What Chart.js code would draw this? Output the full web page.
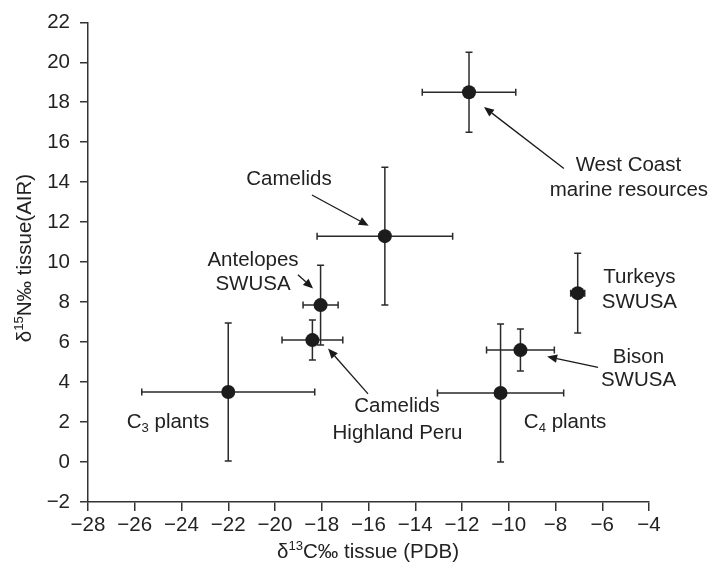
<!DOCTYPE html>
<html><head><meta charset="utf-8">
<script src="https://cdn.jsdelivr.net/npm/chart.js@4"></script>
<style>html,body{margin:0;padding:0;background:#fff;}#wrap{width:712px;height:574px;}</style>
</head><body><div id="wrap"><canvas id="c" width="712" height="574"></canvas></div>
<script>
// ---- data ----
const groups   = ['West Coast marine resources','Camelids','Antelopes SWUSA','Camelids Highland Peru','C3 plants','C4 plants','Bison SWUSA','Turkeys SWUSA'];
const d13C     = [-11.7, -15.3, -18.05, -18.4, -22.0, -10.35, -9.5, -7.05];
const d15N     = [18.5, 11.3, 7.85, 6.1, 3.5, 3.45, 5.6, 8.45];
const d13CErr  = [2.0, 2.9, 0.75, 1.3, 3.7, 2.7, 1.45, 0.3];
const d15NErr  = [2.0, 3.45, 2.0, 1.0, 3.45, 3.45, 1.05, 2.0];
const xTicks   = [-28, -26, -24, -22, -20, -18, -16, -14, -12, -10, -8, -6, -4];
const yTicks   = [-2, 0, 2, 4, 6, 8, 10, 12, 14, 16, 18, 20, 22];

// ---- annotation layout (data coordinates) ----
const labelTexts = [
  [{t:'West Coast'}], [{t:'marine resources'}],
  [{t:'Camelids'}],
  [{t:'Antelopes'}], [{t:'SWUSA'}],
  [{t:'Camelids'}], [{t:'Highland Peru'}],
  [{t:'C'},{t:'3',sub:true},{t:' plants'}],
  [{t:'C'},{t:'4',sub:true},{t:' plants'}],
  [{t:'Bison'}], [{t:'SWUSA'}],
  [{t:'Turkeys'}], [{t:'SWUSA'}]
];
const labelPos = [
  [-4.88,14.94],[-4.86,13.66],
  [-19.40,14.25],
  [-20.94,10.16],[-20.94,8.97],
  [-14.78,2.87],[-14.76,1.54],
  [-24.58,2.09],
  [-7.59,2.09],
  [-4.45,5.33],[-4.45,4.15],
  [-4.41,9.32],[-4.41,8.09]
];
const arrows = [
  [[-7.64,14.69],[-11.06,17.76]],
  [[-18.42,13.36],[-15.99,11.82]],
  [[-19.02,9.37],[-18.37,8.68]],
  [[-16.02,3.41],[-17.73,5.68]],
  [[-6.18,4.74],[-8.36,5.28]]
];

const FONT = '"Liberation Sans", Arial, Helvetica, sans-serif';
const FS = 20.5;
const INK = '#222';
const AX = '#333';

function richWidth(ctx, parts, fs){
  let w=0;
  for(const p of parts){
    const s = (p.sub||p.sup)? fs*0.64 : fs;
    ctx.font = s+'px '+FONT;
    w += ctx.measureText(p.t).width;
  }
  return w;
}
function drawRich(ctx, parts, cx, cy, fs){
  const w = richWidth(ctx, parts, fs);
  let x = cx - w/2;
  const base = cy + 0.36*fs;
  ctx.textAlign='left'; ctx.textBaseline='alphabetic'; ctx.fillStyle=INK;
  for(const p of parts){
    const s = (p.sub||p.sup)? fs*0.64 : fs;
    ctx.font = s+'px '+FONT;
    let y = base;
    if(p.sub) y = base + 0.22*fs;
    if(p.sup) y = base - 0.42*fs;
    ctx.fillText(p.t, x, y);
    x += ctx.measureText(p.t).width;
  }
}

const errorBars = {
  id:'errorBars',
  beforeDatasetsDraw(chart){
    const {ctx, scales:{x,y}} = chart;
    ctx.save();
    ctx.strokeStyle='#2a2a2a'; ctx.lineWidth=1.5;
    const cap=3.5;
    for(let i=0;i<d13C.length;i++){
      const px=x.getPixelForValue(d13C[i]), py=y.getPixelForValue(d15N[i]);
      const x0=x.getPixelForValue(d13C[i]-d13CErr[i]), x1=x.getPixelForValue(d13C[i]+d13CErr[i]);
      const y0=y.getPixelForValue(d15N[i]-d15NErr[i]), y1=y.getPixelForValue(d15N[i]+d15NErr[i]);
      ctx.beginPath();
      ctx.moveTo(x0,py); ctx.lineTo(x1,py);
      ctx.moveTo(x0,py-cap); ctx.lineTo(x0,py+cap);
      ctx.moveTo(x1,py-cap); ctx.lineTo(x1,py+cap);
      ctx.moveTo(px,y0); ctx.lineTo(px,y1);
      ctx.moveTo(px-cap,y0); ctx.lineTo(px+cap,y0);
      ctx.moveTo(px-cap,y1); ctx.lineTo(px+cap,y1);
      ctx.stroke();
    }
    ctx.restore();
  }
};

const notes = {
  id:'notes',
  afterDraw(chart){
    const {ctx, scales:{x,y}, chartArea} = chart;
    ctx.save();
    // labels
    for(let i=0;i<labelTexts.length;i++){
      drawRich(ctx, labelTexts[i], x.getPixelForValue(labelPos[i][0]), y.getPixelForValue(labelPos[i][1]), FS);
    }
    // arrows
    ctx.strokeStyle='#1a1a1a'; ctx.fillStyle='#1a1a1a'; ctx.lineWidth=1.3;
    for(const a of arrows){
      const tx=x.getPixelForValue(a[0][0]), ty=y.getPixelForValue(a[0][1]);
      const hx=x.getPixelForValue(a[1][0]), hy=y.getPixelForValue(a[1][1]);
      const ang=Math.atan2(hy-ty,hx-tx), L=10, W=4.2;
      const bx=hx-L*Math.cos(ang), by=hy-L*Math.sin(ang);
      ctx.beginPath(); ctx.moveTo(tx,ty); ctx.lineTo(bx,by); ctx.stroke();
      ctx.beginPath();
      ctx.moveTo(hx,hy);
      ctx.lineTo(bx+W*Math.sin(ang), by-W*Math.cos(ang));
      ctx.lineTo(bx-W*Math.sin(ang), by+W*Math.cos(ang));
      ctx.closePath(); ctx.fill();
    }
    // axis titles
    drawRich(ctx, [{t:'\u03b4'},{t:'13',sup:true},{t:'C\u2030 tissue (PDB)'}], (chartArea.left+chartArea.right)/2 - 0.5, 551, FS);
    ctx.save();
    ctx.translate(24, 258);
    ctx.rotate(-Math.PI/2);
    drawRich(ctx, [{t:'\u03b4'},{t:'15',sup:true},{t:'N\u2030 tissue(AIR)'}], 0, 0, FS);
    ctx.restore();
    ctx.restore();
  }
};

const fmt = v => String(v).replace('-', '\u2212');

new Chart(document.getElementById('c'), {
  type:'scatter',
  data:{ datasets:[{
    label:'Isotope values',
    data: d13C.map((v,i)=>({x:v, y:d15N[i]})),
    backgroundColor:'#1c1c1c', borderWidth:0, pointRadius:7, pointHoverRadius:7
  }]},
  options:{
    responsive:false, animation:false, devicePixelRatio:1,
    layout:{padding:{top:15, right:63, left:0, bottom:0}},
    plugins:{legend:{display:false}, tooltip:{enabled:false}},
    scales:{
      x:{
        type:'linear', min:-28, max:-4,
        afterBuildTicks(s){ s.ticks = xTicks.map(v=>({value:v})); },
        afterFit(s){ s.height = 72; },
        ticks:{ callback:fmt, color:INK, font:{family:FONT, size:FS}, padding:2, maxRotation:0, autoSkip:false },
        grid:{ drawOnChartArea:false, drawTicks:true, tickLength:9, color:AX, lineWidth:1.5 },
        border:{ color:AX, width:1.5 }
      },
      y:{
        type:'linear', min:-2, max:22,
        afterBuildTicks(s){ s.ticks = yTicks.map(v=>({value:v})); },
        afterFit(s){ s.width = 88; },
        ticks:{ callback:fmt, color:INK, font:{family:FONT, size:FS}, padding:10, autoSkip:false },
        grid:{ drawOnChartArea:false, drawTicks:true, tickLength:8, color:AX, lineWidth:1.5 },
        border:{ color:AX, width:1.5 }
      }
    }
  },
  plugins:[errorBars, notes]
});
</script></body></html>
